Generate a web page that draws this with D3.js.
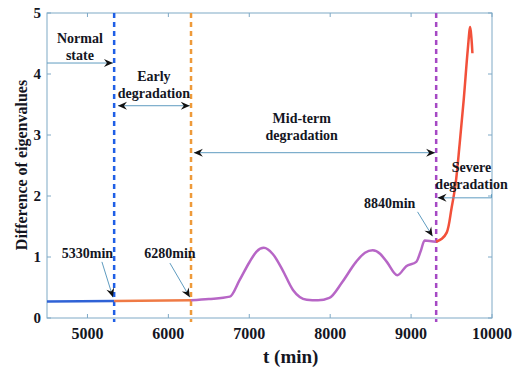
<!DOCTYPE html>
<html>
<head>
<meta charset="utf-8">
<script src="https://cdn.jsdelivr.net/npm/d3@7"></script>
<style>
  body { margin: 0; background: #fff; }
</style>
</head>
<body>
<svg id="chart" width="514" height="371" font-family="Liberation Serif" font-weight="bold"></svg>
<script>
(function() {
    var width = 514, height = 371;
    var margin = {left: 47, right: 22, top: 13, bottom: 53};

    // stage curves: [t (min), difference of eigenvalues]
    var normalStage = [[4500, 0.27], [5330, 0.28]];
    var earlyStage = [[5330, 0.28], [6280, 0.29]];
    var midStage = [
        [6280, 0.29], [6500, 0.31], [6760, 0.35], [6880, 0.62], [7000, 0.91],
        [7090, 1.09], [7180, 1.15], [7290, 1.05], [7410, 0.79], [7540, 0.46],
        [7710, 0.30], [7850, 0.29], [7990, 0.33], [8150, 0.59], [8320, 0.92],
        [8430, 1.07], [8525, 1.11], [8620, 1.05], [8700, 0.92], [8830, 0.70],
        [8940, 0.85], [9064, 0.92], [9120, 1.10], [9167, 1.27], [9250, 1.26],
        [9310, 1.25]
    ];
    var severeStage = [
        [9310, 1.25], [9380, 1.30], [9440, 1.40], [9500, 1.80], [9550, 2.20],
        [9600, 2.85], [9650, 3.57], [9700, 4.39], [9730, 4.77], [9745, 4.60],
        [9758, 4.34]
    ];
    // stage boundaries
    var boundaries = [5330, 6280, 9310];
    var boundaryColors = ["#1f5fe6", "#ee9a3a", "#a548c4"];

    var xTicks = [5000, 6000, 7000, 8000, 9000, 10000];
    var yTicks = [0, 1, 2, 3, 4, 5];

    // stage labels: [t centre, y first line, lines]
    var stageLabels = [
        {t: 4907, y: 4.59, lines: ["Normal", "state"]},
        {t: 5821, y: 3.97, lines: ["Early", "degradation"]},
        {t: 7648, y: 3.28, lines: ["Mid-term", "degradation"]},
        {t: 9747, y: 2.48, lines: ["Severe", "degradation"]}
    ];
    // stage arrows: from, to, y, double headed?
    var stageArrows = [
        {x1: 4500, x2: 5315, y: 4.18, both: false},
        {x1: 5377, x2: 6265, y: 3.48, both: true},
        {x1: 6315, x2: 9297, y: 2.71, both: true},
        {x1: 9994, x2: 9327, y: 1.97, both: false}
    ];
    // time point callouts
    var callouts = [
        {label: "5330min", t: 5000, v: 1.07, x1: 5179, y1: 0.92, x2: 5315, y2: 0.34},
        {label: "6280min", t: 6019, v: 1.07, x1: 6019, y1: 0.90, x2: 6265, y2: 0.34},
        {label: "8840min", t: 8735, v: 1.89, x1: 9080, y1: 1.74, x2: 9265, y2: 1.34}
    ];

    var svg = d3.select("#chart");
    var ink = "#14161f";

    var x = d3.scaleLinear().domain([4500, 10000]).range([margin.left, width - margin.right]);
    var y = d3.scaleLinear().domain([0, 5]).range([height - margin.bottom, margin.top]);

    var axisColor = "#7fa9c6";

    svg.append("defs").append("marker")
        .attr("id", "head")
        .attr("viewBox", "-10 -5 12 10")
        .attr("refX", 0).attr("refY", 0)
        .attr("markerWidth", 12).attr("markerHeight", 10)
        .attr("markerUnits", "userSpaceOnUse")
        .attr("orient", "auto-start-reverse")
        .append("path")
        .attr("d", "M0,0 L-9,-4 L-6,0 L-9,4 Z")
        .attr("fill", "#111");

    // box
    svg.append("rect")
        .attr("x", x(4500)).attr("y", y(5))
        .attr("width", x(10000) - x(4500)).attr("height", y(0) - y(5))
        .attr("fill", "none").attr("stroke", axisColor).attr("stroke-width", 1);

    // ticks inward on all four sides
    var tk = svg.append("g").attr("stroke", axisColor).attr("stroke-width", 1);
    xTicks.forEach(function(t) {
        tk.append("line").attr("x1", x(t)).attr("x2", x(t)).attr("y1", y(0)).attr("y2", y(0) - 4);
        tk.append("line").attr("x1", x(t)).attr("x2", x(t)).attr("y1", y(5)).attr("y2", y(5) + 4);
    });
    yTicks.forEach(function(v) {
        tk.append("line").attr("x1", x(4500)).attr("x2", x(4500) + 4).attr("y1", y(v)).attr("y2", y(v));
        tk.append("line").attr("x1", x(10000)).attr("x2", x(10000) - 4).attr("y1", y(v)).attr("y2", y(v));
    });

    svg.append("g").selectAll("text")
        .data(xTicks)
        .join("text")
        .attr("x", function(d) { return x(d); })
        .attr("y", 339)
        .attr("text-anchor", "middle")
        .attr("fill", ink)
        .style("font-size", "16px")
        .text(function(d) { return d; });

    svg.append("g").selectAll("text")
        .data(yTicks)
        .join("text")
        .attr("x", 41)
        .attr("y", function(d) { return y(d); })
        .attr("dy", "0.35em")
        .attr("text-anchor", "end")
        .attr("fill", ink)
        .style("font-size", "15px")
        .text(function(d) { return d; });

    svg.append("text")
        .attr("x", x(7500) + 1).attr("y", 363)
        .attr("text-anchor", "middle")
        .attr("fill", ink)
        .style("font-size", "19px")
        .text("t (min)");

    svg.append("text")
        .attr("transform", "translate(27,165) rotate(-90)")
        .attr("text-anchor", "middle")
        .attr("fill", ink)
        .style("font-size", "16px")
        .text("Difference of eigenvalues");

    // boundaries
    svg.append("g").selectAll("line")
        .data(boundaries)
        .join("line")
        .attr("x1", function(d) { return x(d); })
        .attr("x2", function(d) { return x(d); })
        .attr("y1", y(5)).attr("y2", y(0) + 4)
        .attr("stroke", function(d, i) { return boundaryColors[i]; })
        .attr("stroke-width", 2.5)
        .attr("stroke-dasharray", "5,4");

    var line = d3.line()
        .x(function(d) { return x(d[0]); })
        .y(function(d) { return y(d[1]); })
        .curve(d3.curveMonotoneX);
    var sharp = d3.line()
        .x(function(d) { return x(d[0]); })
        .y(function(d) { return y(d[1]); })
        .curve(d3.curveCatmullRom);

    var stages = [
        {data: normalStage, color: "#2f62d6", gen: line},
        {data: earlyStage, color: "#ef7a45", gen: line},
        {data: midStage, color: "#b766c6", gen: line},
        {data: severeStage, color: "#f2503a", gen: sharp}
    ];
    svg.append("g").selectAll("path")
        .data(stages)
        .join("path")
        .attr("d", function(d) { return d.gen(d.data); })
        .attr("fill", "none")
        .attr("stroke", function(d) { return d.color; })
        .attr("stroke-width", 2.5)
        .attr("stroke-linejoin", "round");

    // stage arrows
    var arrowColor = "#5f9cc0";
    svg.append("g").selectAll("line")
        .data(stageArrows)
        .join("line")
        .attr("x1", function(d) { return x(d.x1); })
        .attr("x2", function(d) { return x(d.x2); })
        .attr("y1", function(d) { return y(d.y); })
        .attr("y2", function(d) { return y(d.y); })
        .attr("stroke", arrowColor).attr("stroke-width", 1)
        .attr("marker-end", "url(#head)")
        .attr("marker-start", function(d) { return d.both ? "url(#head)" : null; });

    // little hook at the right end of the severe arrow
    svg.append("line")
        .attr("x1", x(9994)).attr("x2", x(9994))
        .attr("y1", y(1.97)).attr("y2", y(2.03))
        .attr("stroke", arrowColor).attr("stroke-width", 1);

    stageLabels.forEach(function(s) {
        var t = svg.append("text")
            .attr("x", x(s.t)).attr("y", y(s.y))
            .attr("text-anchor", "middle")
            .attr("fill", ink)
            .style("font-size", "14px");
        s.lines.forEach(function(l, i) {
            t.append("tspan").attr("x", x(s.t)).attr("dy", i === 0 ? "0.35em" : "17px").text(l);
        });
    });

    svg.append("g").selectAll("line")
        .data(callouts)
        .join("line")
        .attr("x1", function(d) { return x(d.x1); })
        .attr("y1", function(d) { return y(d.y1); })
        .attr("x2", function(d) { return x(d.x2); })
        .attr("y2", function(d) { return y(d.y2); })
        .attr("stroke", arrowColor).attr("stroke-width", 1)
        .attr("marker-end", "url(#head)");

    svg.append("g").selectAll("text")
        .data(callouts)
        .join("text")
        .attr("x", function(d) { return x(d.t); })
        .attr("y", function(d) { return y(d.v); })
        .attr("dy", "0.35em")
        .attr("text-anchor", "middle")
        .attr("fill", ink)
        .style("font-size", "14px")
        .text(function(d) { return d.label; });
})();
</script>
</body>
</html>
